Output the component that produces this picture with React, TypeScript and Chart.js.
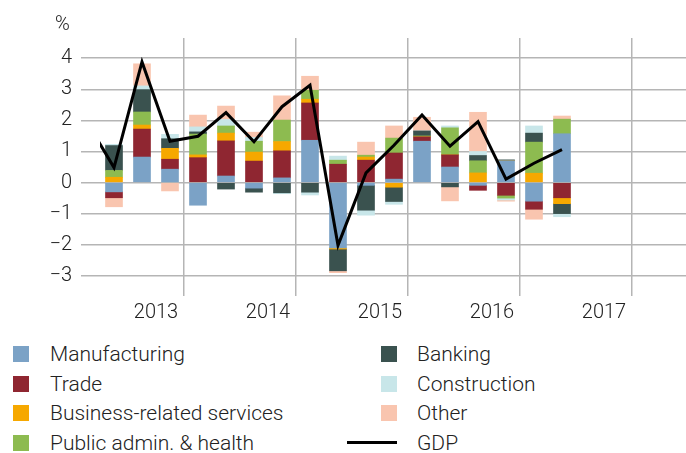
import React, { useEffect, useRef } from 'react';
import { Chart, registerables } from 'chart.js';

Chart.register(...registerables);

// ---- Data ----
const quarters = [
  '2013Q1', '2013Q2', '2013Q3', '2013Q4',
  '2014Q1', '2014Q2', '2014Q3', '2014Q4',
  '2015Q1', '2015Q2', '2015Q3', '2015Q4',
  '2016Q1', '2016Q2', '2016Q3', '2016Q4',
  '2017Q1',
];
const gdpQuarters = ['2012Q4', ...quarters];
const years = ['2013', '2014', '2015', '2016', '2017'];

const manufacturing = [-0.30, 0.82, 0.43, -0.73, 0.21, -0.18, 0.15, 1.36, -2.10, -0.09, 0.11, 1.33, 0.50, -0.09, 0.70, -0.60, 1.57];
const trade = [-0.19, 0.90, 0.32, 0.80, 1.13, 0.69, 0.87, 1.20, 0.59, 0.72, 0.84, 0.14, 0.39, -0.16, -0.41, -0.26, -0.49];
const business = [0.17, 0.13, 0.35, 0.09, 0.25, 0.29, 0.30, 0.12, -0.04, 0.10, -0.15, 0.0, 0.0, 0.31, 0.0, 0.30, -0.19];
const publicAdmin = [0.22, 0.42, 0.0, 0.67, 0.23, 0.35, 0.69, 0.29, 0.13, 0.06, 0.48, 0.03, 0.87, 0.39, -0.09, 1.00, 0.47];
const banking = [0.80, 0.72, 0.31, 0.07, -0.21, -0.13, -0.33, -0.31, -0.70, -0.80, -0.46, 0.16, -0.14, 0.17, 0.03, 0.29, -0.32];
const construction = [0.04, 0.12, 0.14, 0.16, 0.21, 0.12, -0.03, -0.09, 0.13, -0.16, -0.09, 0.0, 0.06, 0.13, -0.06, 0.23, -0.10];
const other = [-0.29, 0.71, -0.27, 0.38, 0.43, 0.17, 0.78, 0.45, -0.06, 0.42, 0.39, 0.44, -0.45, 1.26, -0.04, -0.32, 0.10];
const gdp = [2.0, 0.48, 3.88, 1.33, 1.49, 2.25, 1.31, 2.44, 3.13, -2.02, 0.31, 1.20, 2.17, 1.17, 1.96, 0.11, 0.62, 1.06];

const seriesNames = ['Manufacturing', 'Trade', 'Business-related services', 'Public admin. & health', 'Banking', 'Construction', 'Other'];
const seriesValues = [manufacturing, trade, business, publicAdmin, banking, construction, other];
const seriesColors = ['#7BA2C6', '#8F2631', '#F6A800', '#8DBB50', '#3A524F', '#C8E6E9', '#F9C5AF'];
const gdpName = 'GDP';
const gdpColor = '#000000';

// ---- Styles ----
const FONT = 'Roboto, "DejaVu Sans", sans-serif';
const WEIGHT = 300;
const GRID = '#b5b5b5';
const TEXT = '#222222';

function quarterPos(label: string): number {
  const y = parseInt(label.slice(0, 4), 10);
  const q = parseInt(label.slice(5), 10);
  return (y - 2013) * 4 + (q - 1) + 0.5;
}

function ChartCanvas() {
  const ref = useRef<HTMLCanvasElement | null>(null);
  useEffect(() => {
    if (!ref.current) return;
    const barSets = seriesNames.map((name, i) => ({
      type: 'bar' as const,
      label: name,
      data: seriesValues[i].map((v, j) => ({ x: quarterPos(quarters[j]), y: v })),
      backgroundColor: seriesColors[i],
      borderWidth: 0,
      barThickness: 17,
      stack: 'bars',
      order: 2,
    }));
    const lineSet = {
      type: 'line' as const,
      label: gdpName,
      data: gdp.map((v, j) => ({ x: quarterPos(gdpQuarters[j]), y: v })),
      borderColor: gdpColor,
      backgroundColor: gdpColor,
      borderWidth: 3,
      pointRadius: 0,
      tension: 0,
      fill: false,
      stack: 'gdp',
      order: 1,
    };
    const chart = new Chart(ref.current, {
      type: 'bar',
      data: { datasets: [...barSets, lineSet] as any },
      options: {
        animation: false,
        responsive: true,
        maintainAspectRatio: false,
        layout: { padding: { top: 38, left: 0, right: 0, bottom: 0 } },
        plugins: { legend: { display: false }, tooltip: { enabled: false } },
        scales: {
          x: {
            type: 'linear',
            min: 0,
            max: 20,
            stacked: true,
            offset: false,
            border: { display: false },
            grid: {
              color: (ctx: any) => (ctx.tick && ctx.tick.value % 4 === 0 ? GRID : 'rgba(0,0,0,0)'),
              lineWidth: 1.5,
              drawTicks: false,
            },
            ticks: {
              stepSize: 2,
              autoSkip: false,
              maxRotation: 0,
              padding: 5,
              color: TEXT,
              font: { family: FONT, size: 20, weight: WEIGHT },
              callback: (v: any) => (Number(v) % 4 === 2 ? years[(Number(v) - 2) / 4] : ''),
            },
            afterFit: (s: any) => { s.height = 39; },
          },
          y: {
            type: 'linear',
            position: 'left',
            min: -3.65,
            max: 4.65,
            stacked: true,
            border: { display: false },
            grid: { color: GRID, lineWidth: 1.5, tickLength: 19 },
            ticks: {
              stepSize: 1,
              includeBounds: false,
              padding: 9,
              color: TEXT,
              font: { family: FONT, size: 20, weight: WEIGHT },
              callback: (v: any) => (Number(v) < 0 ? '\u2212' + Math.abs(Number(v)) : String(v)),
            },
            afterFit: (s: any) => { s.width = 100; },
          },
          y2: {
            type: 'linear',
            position: 'right',
            min: -3.65,
            max: 4.65,
            border: { display: false },
            grid: { color: GRID, lineWidth: 1.5, tickLength: 26, drawOnChartArea: false },
            ticks: { display: false, stepSize: 1, includeBounds: false },
            afterFit: (s: any) => { s.width = 26; },
          },
        },
      } as any,
    });
    return () => chart.destroy();
  }, []);
  return <canvas ref={ref} />;
}

function Legend() {
  const items = [
    ...seriesNames.map((n, i) => ({ name: n, color: seriesColors[i], line: false })),
    { name: gdpName, color: gdpColor, line: true },
  ];
  const rowCenters = [354, 383.5, 413, 442.5];
  const colSwatch = [13, 381];
  const colText = [50, 417];
  return (
    <>
      {items.map((it, k) => {
        const col = Math.floor(k / 4);
        const row = k % 4;
        const cy = rowCenters[row];
        return (
          <React.Fragment key={it.name}>
            {it.line ? (
              <div style={{ position: 'absolute', left: 347, top: cy - 1.5, width: 50, height: 3, background: it.color }} />
            ) : (
              <div style={{ position: 'absolute', left: colSwatch[col], top: cy - 8, width: 16, height: 16, background: it.color }} />
            )}
            <div
              style={{
                position: 'absolute',
                left: colText[col],
                top: cy - 12,
                height: 24,
                lineHeight: '24px',
                fontFamily: FONT,
                fontWeight: WEIGHT,
                fontSize: 21,
                color: TEXT,
                whiteSpace: 'nowrap',
              }}
            >
              {it.name}
            </div>
          </React.Fragment>
        );
      })}
    </>
  );
}

export default function App() {
  return (
    <div style={{ position: 'absolute', left: 0, top: 0, width: 686, height: 453, background: '#fff', overflow: 'hidden' }}>
      <div style={{ position: 'absolute', left: 0, top: 0, width: 686, height: 335 }}>
        <ChartCanvas />
      </div>
      <div
        style={{
          position: 'absolute',
          left: 55,
          top: 11,
          lineHeight: '24px',
          fontFamily: FONT,
          fontWeight: WEIGHT,
          fontSize: 20,
          color: TEXT,
        }}
      >
        %
      </div>
      <Legend />
    </div>
  );
}
